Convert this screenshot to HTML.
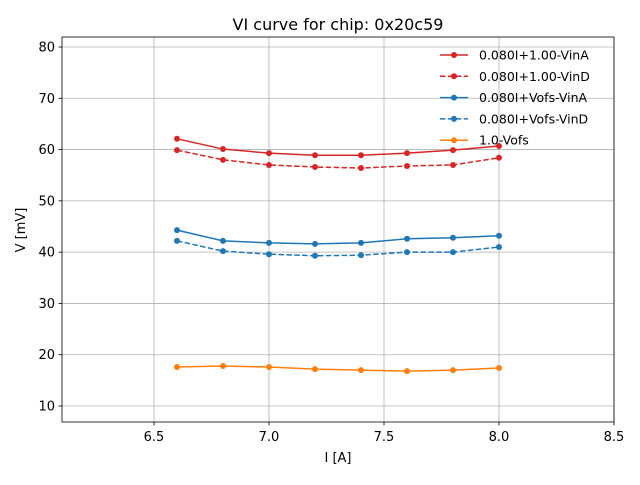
<!DOCTYPE html>
<html><head><meta charset="utf-8"><style>
body{margin:0;background:#fff;font-family:"Liberation Sans","DejaVu Sans",sans-serif}
svg text{font-family:"DejaVu Sans","Liberation Sans",sans-serif}
</style></head><body>
<svg id="chart" width="640" height="480" xmlns="http://www.w3.org/2000/svg"></svg>
<script>
const xValues=[6.6,6.8,7.0,7.2,7.4,7.6,7.8,8.0];
const redSolid=[62.1,60.1,59.3,58.9,58.9,59.3,59.9,60.7];
const redDashed=[59.9,58.0,57.0,56.6,56.4,56.8,57.0,58.4];
const blueSolid=[44.3,42.2,41.8,41.6,41.8,42.6,42.8,43.2];
const blueDashed=[42.2,40.2,39.6,39.3,39.4,40.0,40.0,41.0];
const orangeSolid=[17.6,17.8,17.6,17.2,17.0,16.8,17.0,17.4];
const xTicks=[6.5,7.0,7.5,8.0,8.5];
const yTicks=[10,20,30,40,50,60,70,80];
const seriesNames=["0.080I+1.00-VinA","0.080I+1.00-VinD","0.080I+Vofs-VinA","0.080I+Vofs-VinD","1.0-Vofs"];

const svg=document.getElementById('chart');
const NS='http://www.w3.org/2000/svg';
const L=62,R=614,T=37,B=422,xmin=6.1,xmax=8.5,ymin=6.88,ymax=81.95;
const sx=v=>L+(v-xmin)/(xmax-xmin)*(R-L);
const sy=v=>B-(v-ymin)/(ymax-ymin)*(B-T);
function mk(tag,attrs,parent){const e=document.createElementNS(NS,tag);for(const k in attrs)e.setAttribute(k,attrs[k]);(parent||svg).appendChild(e);return e;}
function txt(s,attrs){const e=mk('text',attrs);e.textContent=s;return e;}

xTicks.forEach(t=>{const g=mk('line',{x1:sx(t),x2:sx(t),y1:T,y2:B,stroke:'#b0b0b0','stroke-width':0.8});


mk('line',{x1:sx(t),x2:sx(t),y1:B,y2:B+3.5,stroke:'#000','stroke-width':0.8});
const l=txt(t.toFixed(1),{x:sx(t),y:B+19,'font-size':13,'text-anchor':'middle'});

});
yTicks.forEach(t=>{const g=mk('line',{x1:L,x2:R,y1:sy(t),y2:sy(t),stroke:'#b0b0b0','stroke-width':0.8});


mk('line',{x1:L-3.5,x2:L,y1:sy(t),y2:sy(t),stroke:'#000','stroke-width':0.8});
const l=txt(String(t),{x:L-7,y:sy(t)+4.5,'font-size':13,'text-anchor':'end'});

});

const series=[[redSolid,'#d62728',''],[redDashed,'#d62728','5.5,2.4'],[blueSolid,'#1f77b4',''],[blueDashed,'#1f77b4','5.5,2.4'],[orangeSolid,'#ff7f0e','']];
series.forEach((s,i)=>{
 const pts=xValues.map((x,j)=>sx(x)+','+sy(s[0][j])).join(' ');
 const p=mk('polyline',{points:pts,fill:'none',stroke:s[1],'stroke-width':1.5,'stroke-dasharray':s[2]});
 
 
 xValues.forEach((x,j)=>{const c=mk('circle',{cx:sx(x),cy:sy(s[0][j]),r:3,fill:s[1]});
 
 });
 const ly=55+i*21.3;
 mk('line',{x1:440,x2:468,y1:ly,y2:ly,stroke:s[1],'stroke-width':1.5,'stroke-dasharray':s[2]});
 mk('circle',{cx:454,cy:ly,r:3,fill:s[1]});
 const lt=txt(seriesNames[i],{x:479,y:ly+4.5,'font-size':12.5});
 
 
});
const fr=mk('rect',{x:L,y:T,width:R-L,height:B-T,fill:'none',stroke:'#000','stroke-width':0.8});


const ti=txt('VI curve for chip: 0x20c59',{x:338,y:30,'font-size':16,'text-anchor':'middle'});


const xt=txt('I [A]',{x:338,y:462,'font-size':13,'text-anchor':'middle'});


const yt=txt('V [mV]',{x:0,y:0,'font-size':13,'text-anchor':'middle',transform:'translate(25,230) rotate(-90)'});


</script>
</body></html>
